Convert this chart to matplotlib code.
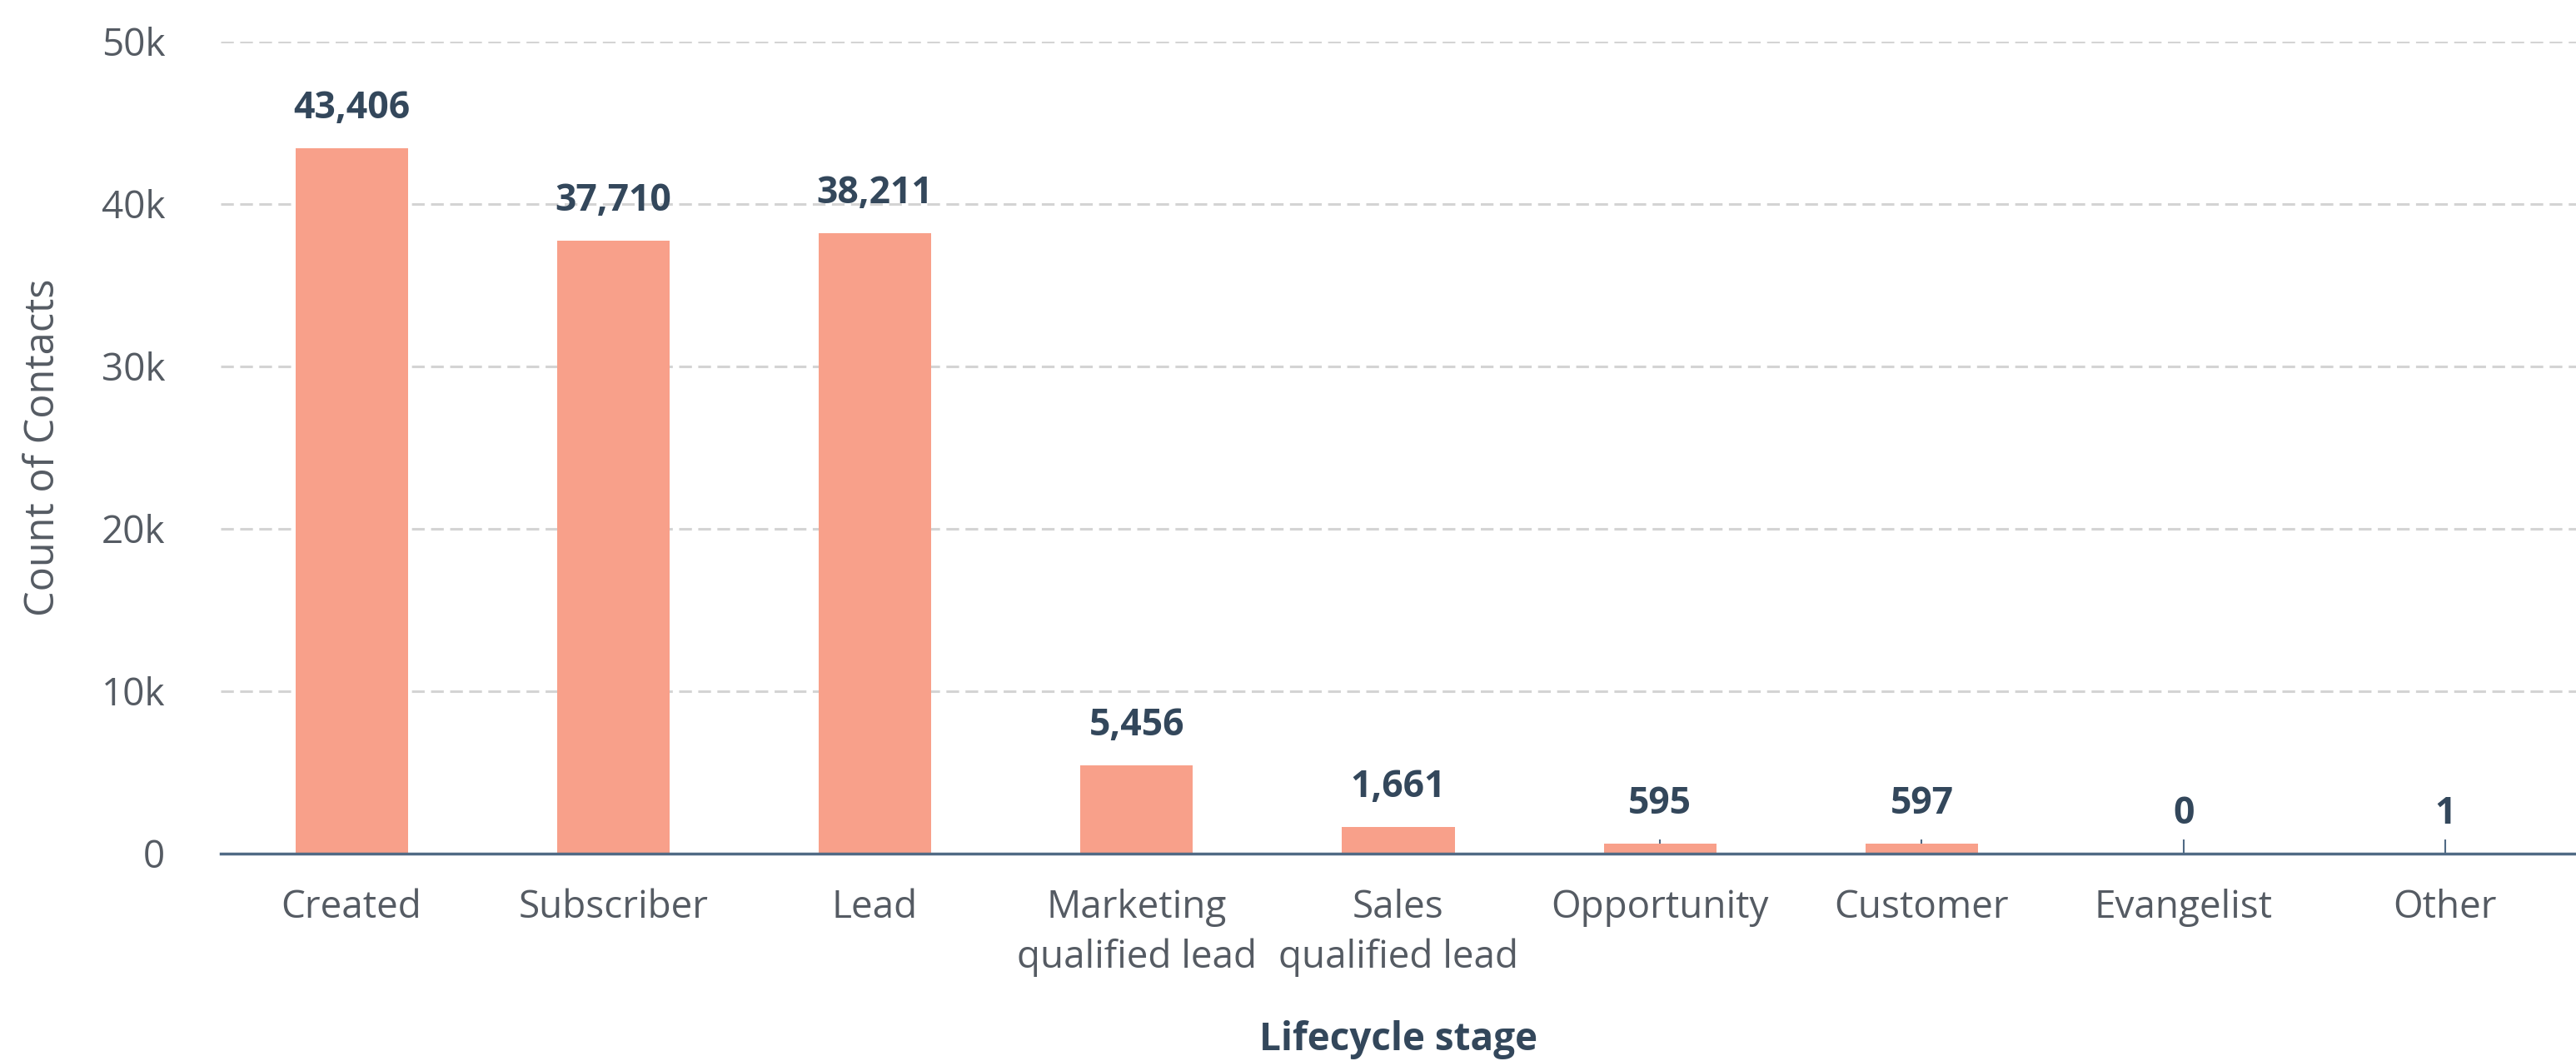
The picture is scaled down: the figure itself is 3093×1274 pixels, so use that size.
import matplotlib.pyplot as plt
import numpy as np

stages = ['Created', 'Subscriber', 'Lead', 'Marketing\nqualified lead', 'Sales\nqualified lead',
          'Opportunity', 'Customer', 'Evangelist', 'Other']
contacts = [43406, 37710, 38211, 5456, 1661, 595, 597, 0, 1]
yticks = [0, 10000, 20000, 30000, 40000, 50000]
ytick_labels = ['0', '10k', '20k', '30k', '40k', '50k']

bar_color = '#f8a08a'
axis_color = '#506a85'
text_color = '#33475b'
label_color = '#555b63'

plt.rcParams['font.family'] = ['Open Sans', 'DejaVu Sans']

fig = plt.figure(figsize=(30.93, 12.74), dpi=100)
ax = fig.add_axes([0.0857, 0.1955, 0.9143, 0.7655])

x = np.arange(len(stages))
ax.bar(x, contacts, width=0.43, color=bar_color, zorder=3)

# value labels above bars
for xi, v in zip(x, contacts):
    ax.annotate(f'{v:,}', (xi, v), xytext=(0, 18), textcoords='offset points',
                ha='center', va='bottom', fontsize=32, fontweight='bold', color=text_color)

ax.set_xlim(-0.5, len(stages) - 0.5)
ax.set_ylim(0, 50000)
ax.set_yticks(yticks)
ax.set_yticklabels(ytick_labels)
ax.set_xticks(x)
ax.set_xticklabels(stages, linespacing=1.38)

ax.grid(axis='y', color='#d4d4d4', linestyle=(0, (5, 2.5)), linewidth=2.2, zorder=0)
for s in ['top', 'right', 'left']:
    ax.spines[s].set_visible(False)
ax.spines['bottom'].set_color(axis_color)
ax.spines['bottom'].set_linewidth(2.5)
ax.spines['bottom'].set_zorder(4)

ax.tick_params(axis='y', length=0, pad=48, labelsize=33, labelcolor=label_color)
ax.tick_params(axis='x', direction='in', length=12, width=1.5, color=axis_color,
               pad=30, labelsize=33, labelcolor=label_color)

ax.set_ylabel('Count of Contacts', fontsize=35, color=label_color, labelpad=32)
ax.set_xlabel('Lifecycle stage', fontsize=33, fontweight='bold', color=text_color, labelpad=38)

fig.savefig('out.png', dpi=100, facecolor='white')
